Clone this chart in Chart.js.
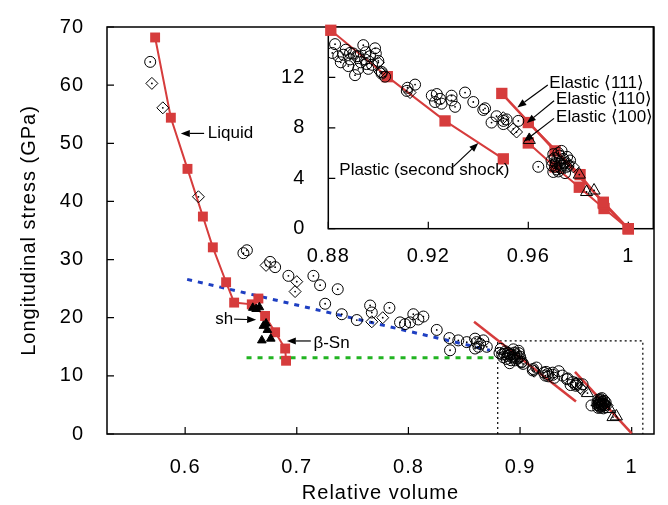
<!DOCTYPE html>
<html>
<head>
<meta charset="utf-8">
<script src="https://cdn.jsdelivr.net/npm/chart.js@4.4.1/dist/chart.umd.min.js"></script>
<style>
  html, body { margin: 0; padding: 0; background: #fff; }
  #wrap { position: relative; width: 668px; height: 505px; }
  #mainChart { position: absolute; left: 0; top: 0; }
  #insetChart { position: absolute; left: 260px; top: 0; }
</style>
</head>
<body>
<div id="wrap">
  <canvas id="mainChart" width="668" height="505"></canvas>
  <canvas id="insetChart" width="408" height="270"></canvas>
</div>
<script>
// [relative volume, longitudinal stress (GPa)]
const liquid = [[0.5731, 68.2], [0.5872, 54.4], [0.6021, 45.6], [0.6159, 37.4], [0.6248, 32.1], [0.6367, 26.1], [0.6439, 22.6]];
const betaSn = [[0.6597, 22.3], [0.6716, 20.3], [0.6806, 17.5], [0.6896, 14.7], [0.6904, 12.6]];
const mixedSquares = [[0.6656, 23.3]];
const shTriangles = [[0.6606, 21.7], [0.6665, 21.8], [0.6636, 21.5], [0.6701, 18.6], [0.6737, 17.9], [0.6725, 19.0], [0.6687, 16.1], [0.6767, 16.4]];

const circles = [
  [0.5687, 64.0],
  [0.6522, 31.1], [0.6553, 31.6], [0.6761, 29.6], [0.6806, 28.7], [0.6925, 27.2],
  [0.7149, 27.2], [0.7209, 25.6], [0.7367, 24.9], [0.7254, 22.4], [0.7403, 20.6],
  [0.7538, 19.6], [0.7657, 22.1], [0.7830, 21.7], [0.7672, 20.9], [0.7925, 19.2],
  [0.7970, 18.9], [0.8044, 20.6], [0.8134, 20.2], [0.8089, 19.7], [0.8015, 19.2],
  [0.8254, 17.9], [0.8367, 16.5], [0.8373, 14.4], [0.8447, 16.1], [0.8523, 15.8],
  [0.8597, 16.4], [0.8612, 15.8], [0.8642, 15.5], [0.8671, 16.1], [0.8627, 15.0],
  [0.8702, 15.0], [0.8597, 14.7],
  [0.8827, 14.64], [0.8816, 13.94], [0.8840, 13.68], [0.8860, 13.80], [0.8887, 13.94],
  [0.8887, 13.43], [0.8913, 13.68], [0.8940, 14.56], [0.8987, 14.31], [0.8920, 13.68],
  [0.8947, 13.43], [0.8967, 13.68], [0.9000, 13.31], [0.8953, 13.06], [0.8920, 12.68],
  [0.8907, 12.18], [0.8960, 12.68], [0.9014, 12.43], [0.9027, 12.06], [0.9013, 12.31],
  [0.8850, 13.20], [0.8870, 14.20], [0.8900, 13.90], [0.8930, 13.20], [0.8975, 13.00],
  [0.8990, 13.90], [0.8880, 12.90], [0.8950, 14.00],
  [0.9117, 11.18], [0.9147, 11.43], [0.9114, 10.93], [0.9214, 10.56], [0.9234, 10.68],
  [0.9247, 10.30], [0.9227, 10.05], [0.9253, 9.92], [0.9293, 10.55], [0.9293, 10.18],
  [0.9307, 9.67], [0.9347, 10.80], [0.9380, 10.05], [0.9420, 9.42], [0.9427, 9.55],
  [0.9453, 8.42], [0.9473, 8.92], [0.9500, 8.55], [0.9500, 8.30], [0.9513, 8.67],
  [0.9560, 8.55], [0.9640, 4.91], [0.9700, 5.91], [0.9713, 5.41], [0.9727, 5.16],
  [0.9740, 5.54], [0.9707, 4.91], [0.9720, 4.54], [0.9753, 4.91], [0.9733, 6.17],
  [0.9747, 4.41], [0.9693, 5.41], [0.9767, 5.41],
  [0.9695, 5.00], [0.9705, 5.60], [0.9715, 4.70], [0.9725, 5.80], [0.9735, 5.00],
  [0.9745, 5.20], [0.9755, 5.70], [0.9710, 5.20], [0.9730, 4.80], [0.9720, 6.00],
  [0.9760, 5.00], [0.9700, 4.50]
];
const diamonds = [
  [0.5702, 60.3], [0.5800, 56.1], [0.6119, 40.8], [0.6725, 29.0], [0.7000, 26.2],
  [0.6985, 24.5], [0.7672, 19.3], [0.7770, 20.0], [0.9000, 13.18], [0.9007, 12.43],
  [0.9127, 10.8], [0.9500, 8.8], [0.9540, 7.92], [0.9553, 7.67], [0.9760, 5.16], [0.9780, 4.91]
];
const triangles = [[0.9604, 7.04], [0.9804, 4.29], [0.9833, 2.91], [0.9863, 3.03]];

// fitted lines
const plasticFit = [[0.8588, 19.3], [0.9501, 5.6]];
const elasticFit = [[0.9492, 10.7], [1.0, 0.1]];
const blueFit = [[0.6018, 26.6], [0.873, 14.4]];
const greenLevel = [[0.655, 13.1], [0.88, 13.1]];
const zoomBox = [[0.88, 0], [0.88, 16], [1.01, 16], [1.01, 0]];

// simulation curves (inset)
const plasticShock = [[0.881, 15.74], [0.9036, 12.06], [0.9267, 8.55], [0.95, 5.54]];
const elastic111 = [[0.9494, 10.73], [0.9707, 6.17], [0.99, 2.1], [1.0, 0.0]];
const elastic110 = [[0.96, 8.42], [0.9807, 4.29], [0.99, 2.0], [1.0, 0.0]];
const elastic100 = [[0.96, 6.8], [0.9707, 4.9], [0.9804, 3.29], [0.9903, 1.6], [1.0, 0.0]];

const mainVolTicks = [0.6, 0.7, 0.8, 0.9, 1];
const mainStressTicks = [0, 10, 20, 30, 40, 50, 60, 70];
const insetVolTicks = [0.88, 0.92, 0.96, 1];
const insetStressTicks = [0, 4, 8, 12];

const RED = '#d63c3c';
const FONT = '"Liberation Sans", Arial, Helvetica, sans-serif';
Chart.defaults.font.family = FONT;
Chart.defaults.font.size = 20;
Chart.defaults.color = '#000';

const pts = list => list.map(([x, y]) => ({ x, y }));

// open marker with a small dot in the middle
function openMarks(list, style, r) {
  return [
    { data: pts(list), pointStyle: 'circle', pointRadius: 0.9, backgroundColor: '#000', borderWidth: 0 },
    { data: pts(list), pointStyle: style, pointRadius: r, backgroundColor: 'rgba(0,0,0,0)', borderColor: '#000', borderWidth: 1 }
  ];
}

function redLine(list, width, sq) {
  return {
    data: pts(list), showLine: true, borderColor: RED, borderWidth: width,
    pointStyle: 'rect', pointRadius: sq, pointBackgroundColor: RED, pointBorderWidth: 0, clip: false
  };
}

function plainLine(list, color, width, dash) {
  return { data: pts(list), showLine: true, borderColor: color, borderWidth: width, borderDash: dash || [], pointRadius: 0 };
}

// frame with inward tick marks
const frame = {
  id: 'frame',
  beforeDraw(chart, args, opts) {
    const { ctx, chartArea: a } = chart;
    ctx.letterSpacing = '1px';
    if (opts.fill) {
      ctx.save();
      ctx.fillStyle = opts.fill;
      ctx.fillRect(a.left, a.top, a.width, a.height);
      ctx.restore();
    }
  },
  beforeDatasetsDraw(chart) {
    const { ctx, chartArea: a, scales: { x, y } } = chart;
    ctx.save();
    ctx.strokeStyle = '#000';
    ctx.lineWidth = 1.5;
    ctx.strokeRect(a.left, a.top, a.width, a.height);
    ctx.lineWidth = 1.2;
    ctx.beginPath();
    x.ticks.forEach(t => {
      const px = x.getPixelForValue(t.value);
      ctx.moveTo(px, a.bottom); ctx.lineTo(px, a.bottom - 7);
    });
    y.ticks.forEach(t => {
      const py = y.getPixelForValue(t.value);
      ctx.moveTo(a.left, py); ctx.lineTo(a.left + 7, py);
    });
    ctx.stroke();
    ctx.restore();
  }
};

// text labels with arrows, positioned in data units
const notes = {
  id: 'notes',
  afterDatasetsDraw(chart, args, opts) {
    const { ctx, scales: { x, y } } = chart;
    ctx.save();
    ctx.letterSpacing = '0px';
    ctx.font = '17px ' + FONT;
    ctx.fillStyle = '#000';
    ctx.strokeStyle = '#000';
    ctx.lineWidth = 1.2;
    ctx.textAlign = 'left';
    ctx.textBaseline = 'middle';
    (opts.items || []).forEach(n => {
      ctx.fillText(n.text, x.getPixelForValue(n.at[0]), y.getPixelForValue(n.at[1]));
      const x0 = x.getPixelForValue(n.from[0]), y0 = y.getPixelForValue(n.from[1]);
      const x1 = x.getPixelForValue(n.to[0]), y1 = y.getPixelForValue(n.to[1]);
      const ang = Math.atan2(y1 - y0, x1 - x0);
      const hl = 9, hw = 3.5;
      const bx = x1 - Math.cos(ang) * hl, by = y1 - Math.sin(ang) * hl;
      ctx.beginPath();
      ctx.moveTo(x0, y0); ctx.lineTo(bx, by);
      ctx.stroke();
      ctx.beginPath();
      ctx.moveTo(x1, y1);
      ctx.lineTo(bx - Math.sin(ang) * hw, by + Math.cos(ang) * hw);
      ctx.lineTo(bx + Math.sin(ang) * hw, by - Math.cos(ang) * hw);
      ctx.closePath();
      ctx.fill();
    });
    ctx.restore();
  }
};

const mainNotes = [
  { text: 'Liquid', at: [0.6203, 51.7], from: [0.617, 51.7], to: [0.5961, 51.7] },
  { text: 'sh', at: [0.6269, 19.7], from: [0.6439, 19.75], to: [0.6636, 19.65] },
  { text: 'β-Sn', at: [0.7149, 15.6], from: [0.7126, 16.0], to: [0.6911, 16.0] }
];
const insetNotes = [
  { text: 'Elastic ⟨111⟩', at: [0.9684, 11.5], from: [0.9678, 11.4], to: [0.9556, 9.62] },
  { text: 'Elastic ⟨110⟩', at: [0.9711, 10.25], from: [0.9703, 10.15], to: [0.9594, 8.38] },
  { text: 'Elastic ⟨100⟩', at: [0.9711, 8.8], from: [0.9703, 8.75], to: [0.9583, 6.92] },
  { text: 'Plastic (second shock)', at: [0.8844, 4.66], from: [0.93, 4.92], to: [0.94, 6.8] }
];

function axes(xMin, xMax, xTicks, xHeight, xPad, yMin, yMax, yTicks, yWidth, yPad, titles) {
  const base = { type: 'linear', grid: { display: false }, border: { display: false } };
  return {
    x: Object.assign({}, base, {
      min: xMin, max: xMax,
      afterBuildTicks: s => { s.ticks = xTicks.map(v => ({ value: v })); },
      afterFit: s => { s.height = xHeight; },
      ticks: { padding: xPad, maxRotation: 0, autoSkip: false, callback: v => String(v) },
      title: titles ? { display: true, text: 'Relative volume', padding: { top: 0, bottom: 0 } } : { display: false }
    }),
    y: Object.assign({}, base, {
      min: yMin, max: yMax,
      afterBuildTicks: s => { s.ticks = yTicks.map(v => ({ value: v })); },
      afterFit: s => { s.width = yWidth; },
      ticks: { padding: yPad, autoSkip: false, callback: v => String(v) },
      title: titles ? { display: true, text: 'Longitudinal stress (GPa)', padding: { top: 17, bottom: 0 } } : { display: false }
    })
  };
}

const mainDatasets = [
  { data: pts(shTriangles), pointStyle: 'triangle', pointRadius: 5, backgroundColor: '#000', borderColor: '#000', borderWidth: 1 },
  ...openMarks(triangles, 'triangle', 7),
  ...openMarks(diamonds, 'rectRot', 6),
  ...openMarks(circles, 'circle', 5.5),
  { data: pts(mixedSquares), pointStyle: 'rect', pointRadius: 7, backgroundColor: RED, borderWidth: 0 },
  redLine(liquid.concat(betaSn), 2, 7),
  plainLine(plasticFit, RED, 2.5),
  plainLine(elasticFit, RED, 2.5),
  plainLine(blueFit, '#1e3fc2', 3, [5, 6]),
  plainLine(greenLevel, '#22b422', 3, [5, 6]),
  plainLine(zoomBox, '#000', 1.2, [2, 3])
];

const insetDatasets = [
  ...openMarks(triangles, 'triangle', 7),
  ...openMarks(diamonds, 'rectRot', 6),
  ...openMarks(circles, 'circle', 5.5),
  redLine(plasticShock, 2, 8),
  redLine(elastic111, 2.5, 8),
  redLine(elastic110, 2, 8),
  redLine(elastic100, 2, 8)
];

const common = { responsive: false, animation: false, events: [], devicePixelRatio: 1 };

new Chart(document.getElementById('mainChart'), {
  type: 'scatter',
  data: { datasets: mainDatasets },
  options: Object.assign({}, common, {
    layout: { padding: { top: 18, right: 14, left: 0, bottom: 0 } },
    plugins: { legend: { display: false }, tooltip: { enabled: false }, frame: {}, notes: { items: mainNotes } },
    scales: axes(0.53, 1.02, mainVolTicks, 71, 13, 0, 70, mainStressTicks, 107, 15, true)
  }),
  plugins: [frame, notes]
});

new Chart(document.getElementById('insetChart'), {
  type: 'scatter',
  data: { datasets: insetDatasets },
  options: Object.assign({}, common, {
    layout: { padding: { top: 17.3, right: 14.7, left: 0, bottom: 0 } },
    plugins: { legend: { display: false }, tooltip: { enabled: false }, frame: { fill: '#fff' }, notes: { items: insetNotes } },
    scales: axes(0.88, 1.01, insetVolTicks, 41.3, 8, 0, 16, insetStressTicks, 68.3, 15, false)
  }),
  plugins: [frame, notes]
});
</script>
</body>
</html>
